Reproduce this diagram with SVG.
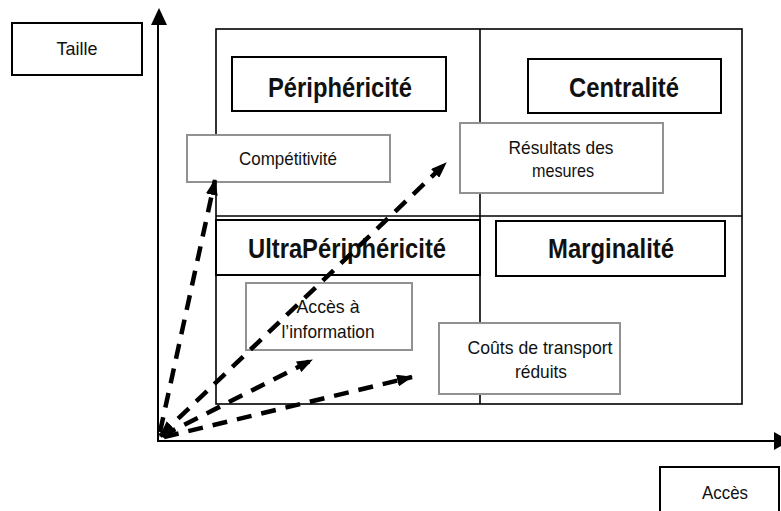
<svg xmlns="http://www.w3.org/2000/svg" width="781" height="511" viewBox="0 0 781 511">
<defs>
<marker id="ah" viewBox="0 0 16 12" refX="15" refY="6" markerWidth="16" markerHeight="12" markerUnits="userSpaceOnUse" orient="auto-start-reverse">
<path d="M0,0 L16,6 L0,12 z" fill="#000"/>
</marker>
</defs>
<style>
.t{font-family:"Liberation Sans",Arial,sans-serif;font-size:19px;fill:#111;text-anchor:middle}
.b{font-family:"Liberation Sans",Arial,sans-serif;font-size:28px;font-weight:bold;fill:#111;text-anchor:middle}
.bx{fill:#fff;stroke:#000;stroke-width:2}
.gx{fill:#fff;stroke:#919191;stroke-width:2}
.fr{fill:none;stroke:#000;stroke-width:1.6}
.ax{stroke:#000;stroke-width:2;fill:none}
.dl{stroke:#000;stroke-width:4.5;fill:none;stroke-dasharray:15 10;marker-end:url(#ah)}
</style>
<rect x="0" y="0" width="781" height="511" fill="#fff"/>
<g id="frame">
<rect class="fr" x="216" y="29" width="526" height="375"/>
<line class="fr" x1="480" y1="29" x2="480" y2="404"/>
<line class="fr" x1="216" y1="216" x2="742" y2="216"/>
</g>
<g id="axes">
<line class="ax" x1="158" y1="442" x2="158" y2="22"/>
<polygon points="159,8 151,25 167,25" fill="#000"/>
<line class="ax" x1="157" y1="441" x2="776" y2="441"/>
<polygon points="774,432 790,441 774,450" fill="#000"/>
</g>
<g id="taille"><rect class="bx" x="12" y="23" width="130" height="52"/><text class="t" x="77" y="55" textLength="41" lengthAdjust="spacingAndGlyphs">Taille</text></g>
<g id="acces-axe"><rect class="bx" x="660" y="467" width="119" height="60"/><text class="t" x="725" y="499" textLength="46" lengthAdjust="spacingAndGlyphs">Accès</text></g>
<g id="peripher"><rect class="bx" x="232" y="57" width="214" height="54"/><text class="b" x="340" y="97" textLength="144" lengthAdjust="spacingAndGlyphs">Périphéricité</text></g>
<g id="central"><rect class="bx" x="528" y="59" width="193" height="54"/><text class="b" x="624" y="97" textLength="110" lengthAdjust="spacingAndGlyphs">Centralité</text></g>
<g id="ultra"><rect class="bx" x="216" y="220" width="264" height="55"/><text class="b" x="347" y="258" textLength="198" lengthAdjust="spacingAndGlyphs">UltraPériphéricité</text></g>
<g id="marginal"><rect class="bx" x="496" y="221" width="229" height="55"/><text class="b" x="611" y="258" textLength="126" lengthAdjust="spacingAndGlyphs">Marginalité</text></g>
<g id="competitivite"><rect class="gx" x="187" y="135" width="203" height="47"/><text class="t" x="288" y="165" textLength="98" lengthAdjust="spacingAndGlyphs">Compétitivité</text></g>
<g id="resultats"><rect class="gx" x="460" y="123" width="203" height="70"/><text class="t" x="561" y="154" textLength="105" lengthAdjust="spacingAndGlyphs">Résultats des</text><text class="t" x="563" y="177" textLength="62" lengthAdjust="spacingAndGlyphs">mesures</text></g>
<g id="acces-info"><rect class="gx" x="246" y="283" width="166" height="67"/><text class="t" x="328" y="313" textLength="63" lengthAdjust="spacingAndGlyphs">Accès à</text><text class="t" x="328" y="338" textLength="93" lengthAdjust="spacingAndGlyphs">l’information</text></g>
<g id="couts"><rect class="gx" x="439" y="323" width="181" height="71"/><text class="t" x="540" y="354" textLength="145" lengthAdjust="spacingAndGlyphs">Coûts de transport</text><text class="t" x="541" y="378" textLength="52" lengthAdjust="spacingAndGlyphs">réduits</text></g>
<g id="connectors">
<line class="dl" x1="160" y1="432" x2="215" y2="180"/>
<line class="dl" x1="160" y1="436" x2="446" y2="163" style="marker-start:url(#ah)"/>
<line class="dl" x1="162" y1="436" x2="312" y2="360"/>
<line class="dl" x1="164" y1="437" x2="412" y2="377"/>
</g>
</svg>
